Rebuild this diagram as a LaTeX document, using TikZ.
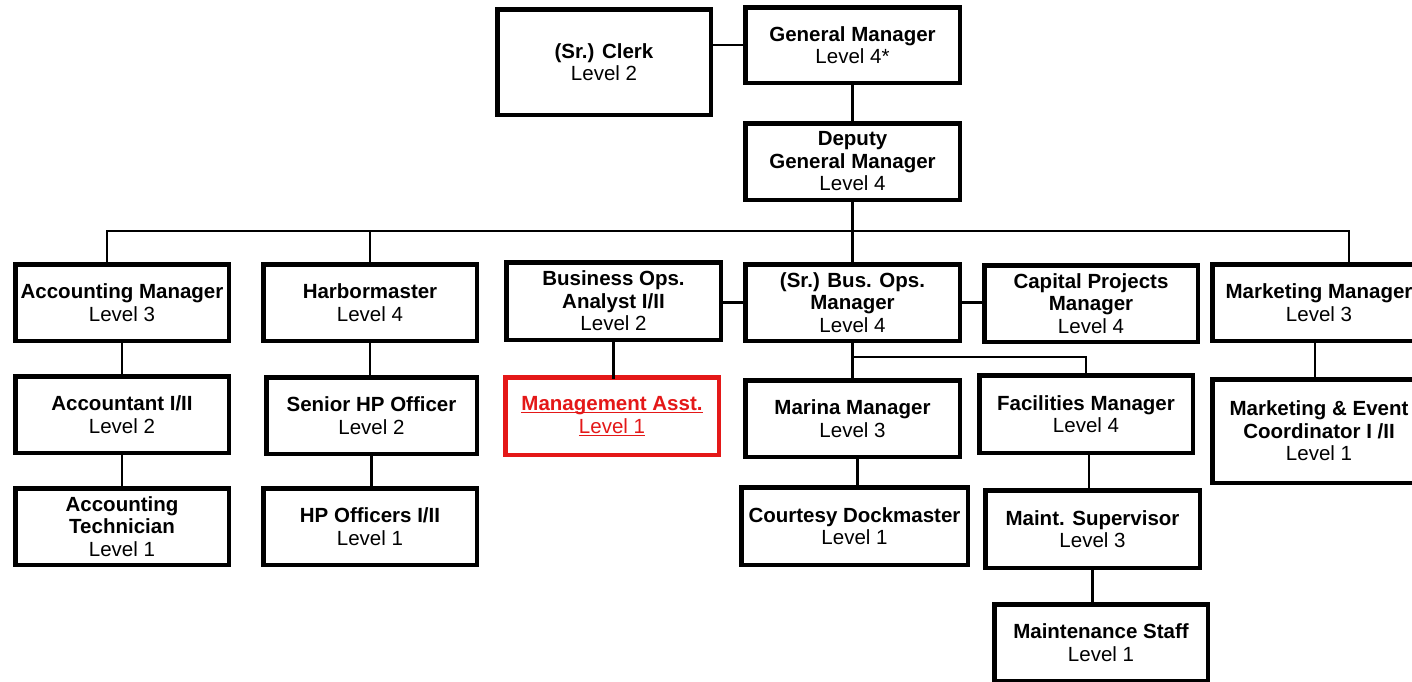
\documentclass[tikz,border=0pt]{standalone}
\usepackage{fontspec}
\setmainfont{Liberation Sans}
\definecolor{hilite}{RGB}{228,24,24}
\newcommand{\ulin}[1]{\underline{\smash{#1}}\vphantom{#1}}
\begin{document}
\begin{tikzpicture}[x=1pt,y=-1pt,
  box/.style={draw=black,line width=4.5pt,rectangle,inner sep=0pt,outer sep=0pt,
    align=center,fill=white,
    font=\fontsize{20.5}{22.5}\selectfont},
  redbox/.style={box,draw=hilite,text=hilite},
  link/.style={line width=2.6pt,line cap=rect}]
  % page frame
  \fill[white] (0,0) rectangle (1412,681);
  \useasboundingbox (0,0) rectangle (1412,681);
  \clip (0,0) rectangle (1412,681);

  % top management
  \node[box,minimum width=213.5,minimum height=105.5] (clerk) at (604,62) {\textbf{(Sr.) Clerk}\\Level 2};
  \node[box,minimum width=214.5,minimum height=75.5] (gm) at (852.5,45) {\textbf{General Manager}\\Level 4*};
  \node[box,minimum width=214.5,minimum height=76.5] (dgm) at (852.5,161.5) {\textbf{Deputy}\\\textbf{General Manager}\\Level 4};

  % second tier
  \node[box,minimum width=213.5,minimum height=76.5] (acm) at (122,302.5) {\textbf{Accounting Manager}\\Level 3};
  \node[box,minimum width=213.5,minimum height=76.5] (hbm) at (370,302.5) {\textbf{Harbormaster}\\Level 4};
  \node[box,minimum width=214.5,minimum height=77.5] (boa) at (613.5,301) {\textbf{Business Ops.}\\\textbf{Analyst I/II}\\Level 2};
  \node[box,minimum width=214.5,minimum height=76.5] (sbom) at (852.5,302.5) {\textbf{(Sr.) Bus. Ops.}\\\textbf{Manager}\\Level 4};
  \node[box,minimum width=213.5,minimum height=76.5] (cpm) at (1091,303.5) {\textbf{Capital Projects}\\\textbf{Manager}\\Level 4};
  \node[box,minimum width=213.5,minimum height=76.5] (mkm) at (1319,302.5) {\textbf{Marketing Manager}\\Level 3};

  % third tier
  \node[box,minimum width=213.5,minimum height=76.5] (acc) at (122,414.5) {\textbf{Accountant I/II}\\Level 2};
  \node[box,minimum width=210.5,minimum height=76.5] (shp) at (371.5,415.5) {\textbf{Senior HP Officer}\\Level 2};
  \node[redbox,minimum width=213.5,minimum height=77.5] (ma) at (612,416) {\ulin{\textbf{Management Asst.}}\\\ulin{Level 1}};
  \node[box,minimum width=214.5,minimum height=76.5] (mar) at (852.5,418.5) {\textbf{Marina Manager}\\Level 3};
  \node[box,minimum width=213.5,minimum height=77.5] (fm) at (1086,414) {\textbf{Facilities Manager}\\Level 4};
  \node[box,minimum width=213.5,minimum height=103.5] (mec) at (1319,431) {\textbf{Marketing \& Event}\\\textbf{Coordinator I /II}\\Level 1};

  % fourth tier
  \node[box,minimum width=213.5,minimum height=76.5] (act) at (122,526.5) {\textbf{Accounting}\\\textbf{Technician}\\Level 1};
  \node[box,minimum width=213.5,minimum height=76.5] (hpo) at (370,526.5) {\textbf{HP Officers I/II}\\Level 1};
  \node[box,minimum width=226.5,minimum height=77.5] (cd) at (854.5,526) {\textbf{Courtesy Dockmaster}\\Level 1};
  \node[box,minimum width=214.5,minimum height=77.5] (ms) at (1092.5,529) {\textbf{Maint. Supervisor}\\Level 3};

  % fifth tier
  \node[box,minimum width=213.5,minimum height=76.5] (mst) at (1101,642.5) {\textbf{Maintenance Staff}\\Level 1};

  % bus and branch points
  \coordinate (busL) at (107,231);
  \coordinate (busR) at (1349,231);
  \coordinate (branch) at (852,357);

  % connectors
  \draw[link] (gm.west) -- (gm.west -| clerk.east);
  \draw[link] (gm.south) -- (dgm.north);
  \draw[link] (dgm.south) -- (sbom.north);
  \draw[link] (busL) -- (busR);
  \draw[link] (busL) -- (busL |- acm.north);
  \draw[link] (hbm.north) -- (hbm.north |- busL);
  \draw[link] (busR) -- (busR |- mkm.north);
  \draw[link] (acm.south) -- (acc.north);
  \draw[link] (acc.south) -- (act.north);
  \draw[link] (hbm.south) -- (hbm.south |- shp.north);
  \draw[link] (shp.south) -- (shp.south |- hpo.north);
  \draw[link] (boa.south) -- (boa.south |- ma.north);
  \draw[link] (sbom.west) -- (sbom.west -| boa.east);
  \draw[link] (sbom.east) -- (sbom.east -| cpm.west);
  \draw[link] (sbom.south) -- (mar.north);
  \draw[link] (branch) -| (fm.north);
  \draw[link] ([xshift=3pt]cd.north) -- ([xshift=3pt]cd.north |- mar.south);
  \draw[link] ([xshift=3pt]fm.south) -- ([xshift=3pt]fm.south |- ms.north);
  \draw[link] (ms.south) -- (ms.south |- mst.north);
  \draw[link] ([xshift=-4pt]mkm.south) -- ([xshift=-4pt]mkm.south |- mec.north);
\end{tikzpicture}
\end{document}
